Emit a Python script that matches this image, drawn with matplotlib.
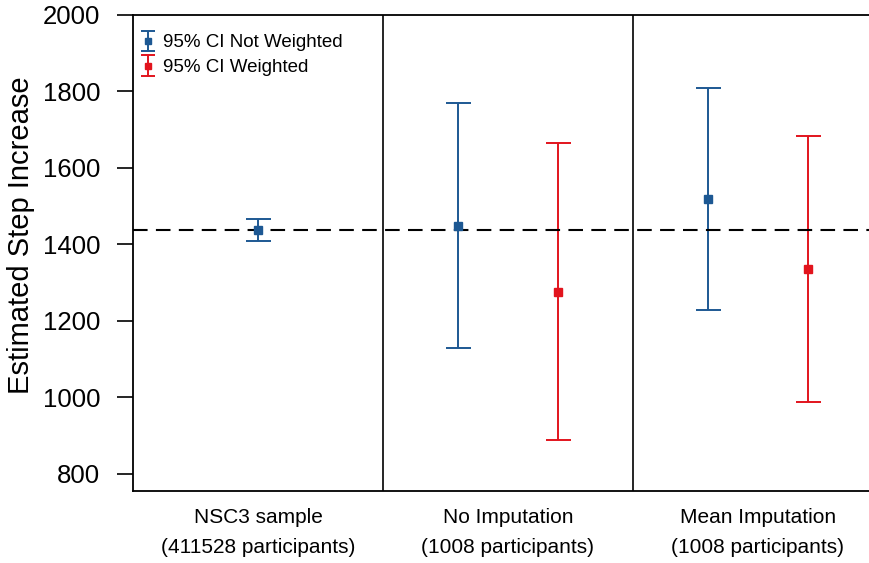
import numpy as np
import matplotlib
matplotlib.use("Agg")
import matplotlib.pyplot as plt
from matplotlib.legend_handler import HandlerErrorbar
from matplotlib.container import ErrorbarContainer

plt.rcParams['font.family'] = ['Liberation Sans', 'DejaVu Sans']

# group labels and estimates (point, lower CI, upper CI)
groups = ["NSC3 sample\n(411528 participants)",
          "No Imputation\n(1008 participants)",
          "Mean Imputation\n(1008 participants)"]

unw_x = [0.5, 1.3, 2.3]
unw_est = [1438, 1449, 1519]
unw_lo = [1409, 1128, 1229]
unw_hi = [1467, 1771, 1808]

w_x = [1.7, 2.7]
w_est = [1276, 1336]
w_lo = [888, 988]
w_hi = [1664, 1683]

ref_line = 1438

blue = '#1d5893'
red = '#e2141d'

fig = plt.figure(figsize=(8.7, 5.63), dpi=100)
ax = fig.add_axes([133/870, 72/563, 750/870, 476/563])

def draw(x, est, lo, hi, color):
    est = np.array(est)
    err = [est - np.array(lo), np.array(hi) - est]
    ax.errorbar(x, est, yerr=err, fmt='s', color=color, ecolor=color,
                markersize=5.5, capsize=9, elinewidth=1.4, capthick=1.4)

draw(unw_x, unw_est, unw_lo, unw_hi, blue)
draw(w_x, w_est, w_lo, w_hi, red)

# small proxy errorbars just for the legend
handles = []
for color, lab in [(blue, '95% CI Not Weighted'), (red, '95% CI Weighted')]:
    h = ax.errorbar([np.nan], [np.nan], yerr=[[1], [1]], fmt='s', color=color,
                    ecolor=color, markersize=5, capsize=5, elinewidth=1.4,
                    capthick=1.4, label=lab)
    handles.append(h)

ax.axhline(ref_line, color='black', lw=1.5, ls=(0, (7, 4)))
for xv in [1, 2]:
    ax.axvline(xv, color='black', lw=1.2)

ax.set_xlim(0, 3)
ax.set_ylim(755, 2000)
ax.set_yticks([800, 1000, 1200, 1400, 1600, 1800, 2000])
ax.tick_params(axis='y', labelsize=18.5, length=11.5, width=1.2, direction='out', pad=12)
ax.set_xticks([0.5, 1.5, 2.5])
ax.set_xticklabels(groups, fontsize=15, linespacing=1.75)
ax.tick_params(axis='x', length=0, pad=12)
ax.set_ylabel('Estimated Step Increase', fontsize=21)
ax.yaxis.set_label_coords(-0.131, 0.538)
for s in ax.spines.values():
    s.set_linewidth(1.3)

ax.legend(handles=handles, loc='upper left', bbox_to_anchor=(-0.003, 0.983),
          frameon=False, fontsize=13.5, handlelength=0.6, handletextpad=0.5,
          borderaxespad=0.2, labelspacing=0.4,
          handler_map={ErrorbarContainer: HandlerErrorbar(xerr_size=0.3, yerr_size=0.55)})

fig.savefig('out.png', dpi=100)
